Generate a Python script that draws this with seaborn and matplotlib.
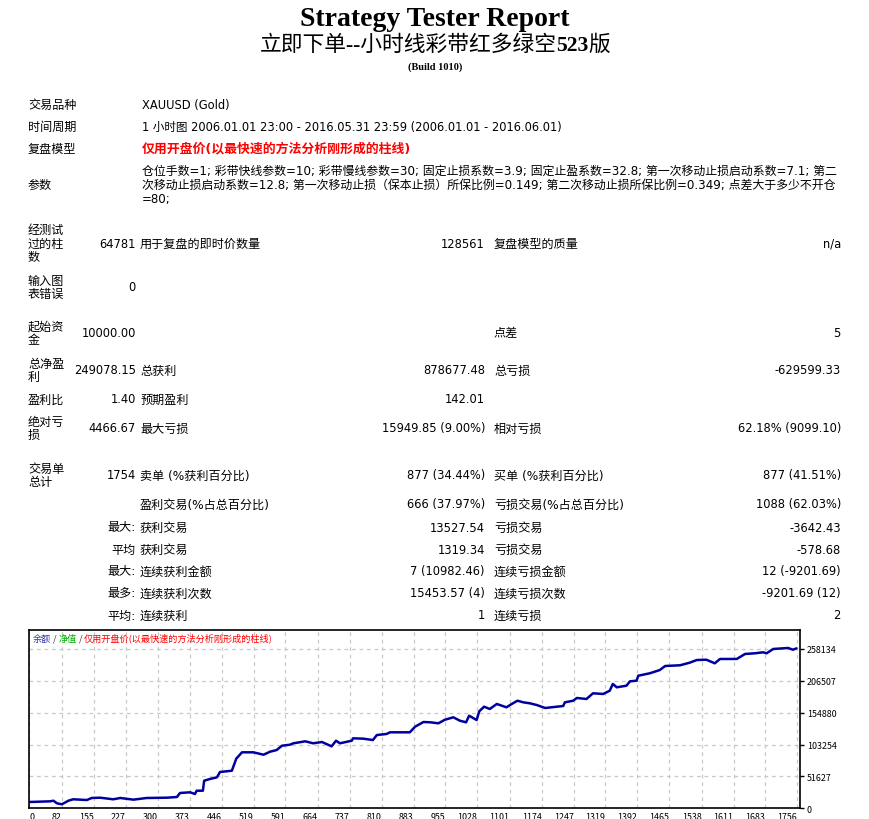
import numpy as np
import pandas as pd
import matplotlib
matplotlib.use('Agg')
import matplotlib.pyplot as plt
import seaborn as sns

# =============================
# Report data
# =============================
title = 'Strategy Tester Report'
subtitle_parts = ['立即下单--小时线彩带红多绿空', '523', '版']
build = '(Build 1010)'

head_labels = ['交易品种', '时间周期', '复盘模型', '参数']
head_values = ['XAUUSD (Gold)',
               '1 小时图 2006.01.01 23:00 - 2016.05.31 23:59 (2006.01.01 - 2016.06.01)',
               '仅用开盘价(以最快速的方法分析刚形成的柱线)']
param_lines = ['仓位手数=1; 彩带快线参数=10; 彩带慢线参数=30; 固定止损系数=3.9; 固定止盈系数=32.8; 第一次移动止损启动系数=7.1; 第二',
               '次移动止损启动系数=12.8; 第一次移动止损（保本止损）所保比例=0.149; 第二次移动止损所保比例=0.349; 点差大于多少不开仓',
               '=80;']

col0_labels = [['经测试', '过的柱', '数'], ['输入图', '表错误'], ['起始资', '金'], ['总净盈', '利'],
               ['盈利比'], ['绝对亏', '损'], ['交易单', '总计'], [], [], [], [], [], []]
col1_values = ['64781', '0', '10000.00', '249078.15', '1.40', '4466.67', '1754',
               '', '最大:', '平均', '最大:', '最多:', '平均:']
col2_labels = ['用于复盘的即时价数量', '', '', '总获利', '预期盈利', '最大亏损', '卖单 (%获利百分比)',
               '盈利交易(%占总百分比)', '获利交易', '获利交易', '连续获利金额', '连续获利次数', '连续获利']
col3_values = ['128561', '', '', '878677.48', '142.01', '15949.85 (9.00%)', '877 (34.44%)',
               '666 (37.97%)', '13527.54', '1319.34', '7 (10982.46)', '15453.57 (4)', '1']
col4_labels = ['复盘模型的质量', '', '点差', '总亏损', '', '相对亏损', '买单 (%获利百分比)',
               '亏损交易(%占总百分比)', '亏损交易', '亏损交易', '连续亏损金额', '连续亏损次数', '连续亏损']
col5_values = ['n/a', '', '5', '-629599.33', '', '62.18% (9099.10)', '877 (41.51%)',
               '1088 (62.03%)', '-3642.43', '-578.68', '12 (-9201.69)', '-9201.69 (12)', '2']

# balance curve (trade number, balance)
trade_no = [0, 55, 63, 71, 82, 97, 108, 139, 150, 169, 199, 215, 245, 275, 321, 344, 351, 374,
            385, 389, 403, 406, 419, 435, 442, 469, 479, 492, 518, 541, 556, 571, 583, 601, 609,
            636, 654, 674, 696, 706, 715, 742, 745, 768, 790, 799, 821, 829, 874, 886, 905, 921,
            939, 954, 973, 988, 1002, 1009, 1026, 1032, 1043, 1056, 1072, 1094, 1106, 1119, 1132,
            1147, 1163, 1182, 1223, 1227, 1246, 1254, 1276, 1291, 1314, 1329, 1336, 1345, 1367,
            1375, 1390, 1394, 1420, 1443, 1455, 1489, 1511, 1527, 1549, 1568, 1580, 1618, 1637,
            1659, 1678, 1686, 1701, 1735, 1746, 1754]
balance = [10000, 11300, 12300, 8100, 6500, 12300, 14600, 13400, 16700, 17200, 14600, 16700,
           14000, 16700, 17200, 18300, 24800, 25900, 23200, 28500, 28500, 44700, 47500, 50200,
           58800, 60900, 80400, 90700, 90700, 86800, 91700, 94400, 101400, 103000, 105300,
           108500, 105300, 107400, 100400, 109500, 105300, 109500, 113400, 112800, 110600,
           118700, 120400, 123100, 123100, 132200, 139800, 139300, 137700, 143500, 147400,
           141900, 139300, 150000, 143000, 157100, 164600, 160900, 169000, 163600, 169000,
           174300, 171700, 170100, 167300, 162500, 165700, 171700, 174300, 178700, 177100,
           186300, 185200, 190500, 201400, 196000, 198600, 205700, 206700, 214800, 218700,
           224000, 230500, 231700, 235900, 240200, 240700, 234900, 241900, 241900, 250000,
           251100, 252700, 251100, 258100, 259700, 256900, 259078]

x_ticks = [82, 155, 227, 300, 373, 446, 519, 591, 664, 737, 810, 883, 955, 1028, 1101, 1174,
           1247, 1319, 1392, 1465, 1538, 1611, 1683, 1756]
y_ticks = [0, 51627, 103254, 154880, 206507, 258134]

legend_parts = ['余额', ' / ', '净值', ' / ', '仅用开盘价(以最快速的方法分析刚形成的柱线)']
legend_colors = ['#3333aa', '#333333', '#00aa00', '#333333', '#ff0000']

# =============================
# Figure setup
# =============================
sns.set_theme(style='white')
plt.rcParams['font.family'] = ['DejaVu Sans', 'Noto Sans CJK SC']

W, H = 870, 820
fig = plt.figure(figsize=(W / 100, H / 100), dpi=100)
fig.patch.set_facecolor('white')

VAL_SIZE = 8.3   # numbers / latin text
LAB_SIZE = 8.7   # chinese labels


def put(px, py, s, **kw):
    kw.setdefault('fontsize', VAL_SIZE)
    kw.setdefault('va', 'center')
    kw.setdefault('color', 'black')
    return fig.text(px / W, 1 - py / H, s, **kw)


# header
put(435, 20, title, ha='center', family=['Liberation Serif'], fontweight='bold', fontsize=20)
put(435, 67, build, ha='center', family=['Liberation Serif'], fontweight='bold', fontsize=7.5)

# subtitle in three pieces (bold digits), centred afterwards
sub_font = ['Liberation Serif', 'Noto Sans CJK SC']
pieces = []
for part, wt in zip(subtitle_parts, ['normal', 'bold', 'normal']):
    pieces.append(put(0, 46, part, ha='left', family=sub_font, fontweight=wt, fontsize=15.7))
renderer = fig.canvas.get_renderer()
widths = [t.get_window_extent(renderer).width / W for t in pieces]
x_run = 0.5 - sum(widths) / 2
for t, w in zip(pieces, widths):
    t.set_x(x_run)
    x_run += w

# top info block
head_y = [105, 127, 149, 185]
for lab, y in zip(head_labels, head_y):
    put(28, y, lab, fontsize=LAB_SIZE)
for i, val in enumerate(head_values):
    if i == 2:
        put(142, head_y[i], val, color='#ff0000', fontweight='bold', fontsize=9.3)
    else:
        put(142, head_y[i], val)
for k, line in enumerate(param_lines):
    put(142, 171 + 14.5 * k, line, fontsize=8.6)

# statistics table
row_y = [244, 288, 334, 371, 400, 429, 476, 505, 528, 550, 572, 594, 616]
line_gap = 13.5
for i, y in enumerate(row_y):
    lines = col0_labels[i]
    for k, line in enumerate(lines):
        put(28, y + (k - (len(lines) - 1) / 2) * line_gap, line, fontsize=LAB_SIZE)
    put(136, y, col1_values[i], ha='right', fontsize=LAB_SIZE if i > 7 else VAL_SIZE)
    put(140, y, col2_labels[i], fontsize=LAB_SIZE)
    put(485, y, col3_values[i], ha='right')
    put(494, y, col4_labels[i], fontsize=LAB_SIZE)
    put(841, y, col5_values[i], ha='right')

# =============================
# Balance graph
# =============================
left, right, top, bottom = 29.3, 800, 631, 809.3
ax = fig.add_axes([left / W, 1 - bottom / H, (right - left) / W, (bottom - top) / H])

curve = pd.DataFrame({'trade': trade_no, 'balance': balance})
sns.lineplot(data=curve, x='trade', y='balance', ax=ax, color='#0000a0',
             linewidth=1.8, estimator=None)

ax.set_xlim(8, 1762)
ax.set_ylim(0, 288840)
ax.set_xlabel('')
ax.set_ylabel('')

ax.set_xticks([8] + x_ticks)
ax.set_xticklabels(['0'] + [str(t) for t in x_ticks])
for i, lab in enumerate(ax.get_xticklabels()):
    lab.set_ha('left' if i == 0 else 'right')
ax.set_yticks(y_ticks)
ax.set_yticklabels([str(t) for t in y_ticks])

ax.yaxis.tick_right()
tick_font = ['Noto Sans CJK SC']
for lab in ax.get_xticklabels() + ax.get_yticklabels():
    lab.set_family(tick_font)
ax.tick_params(axis='y', direction='out', length=3, width=1, pad=2, labelsize=6.4, colors='black')
ax.tick_params(axis='x', direction='out', length=2, width=1, pad=1, labelsize=6.4, colors='black')

ax.grid(True, color='#c8c8c8', linestyle=(0, (3, 3)), linewidth=0.9)
for sp in ax.spines.values():
    sp.set_visible(True)
    sp.set_color('black')
    sp.set_linewidth(1.2)

# legend text in the top left corner of the graph
leg_font = ['Noto Sans CJK SC']
prev = ax.text(0.004, 0.955, legend_parts[0], transform=ax.transAxes, fontsize=6.6,
               color=legend_colors[0], va='center', ha='left', family=leg_font)
for part, col in zip(legend_parts[1:], legend_colors[1:]):
    prev = ax.annotate(part, xy=(1, 0), xycoords=prev, va='bottom', ha='left',
                       fontsize=6.6, color=col, family=leg_font)

fig.savefig('out.png', dpi=100, facecolor='white')
